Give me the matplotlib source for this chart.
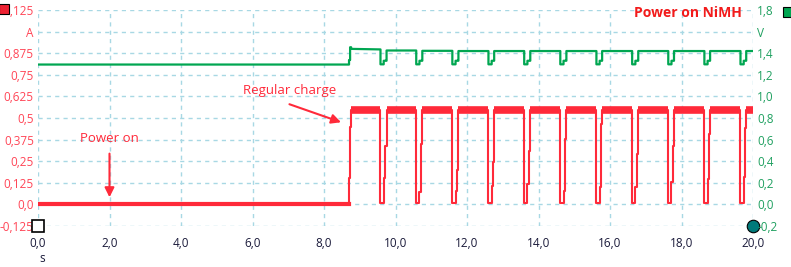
import matplotlib
matplotlib.use("Agg")
import matplotlib.pyplot as plt
import numpy as np

plt.rcParams['font.family'] = ['Open Sans', 'DejaVu Sans']

# ---- data ----
x_ticks = [0, 2, 4, 6, 8, 10, 12, 14, 16, 18, 20]
x_labels = ["0,0", "2,0", "4,0", "6,0", "8,0", "10,0", "12,0", "14,0", "16,0", "18,0", "20,0"]
a_ticks = [-0.125, 0.0, 0.125, 0.25, 0.375, 0.5, 0.625, 0.75, 0.875, 1.0, 1.125]
a_labels = ["-0,125", "0,0", "0,125", "0,25", "0,375", "0,5", "0,625", "0,75", "0,875", "A", "1,125"]
v_ticks = [-0.2, 0.0, 0.2, 0.4, 0.6, 0.8, 1.0, 1.2, 1.4, 1.6, 1.8]
v_labels = ["-0,2", "0,0", "0,2", "0,4", "0,6", "0,8", "1,0", "1,2", "1,4", "V", "1,8"]

idle_current = 0.005
idle_voltage = 1.295
charge_on_times = [8.70, 8.73, 8.76]
charge_on_current = [0.15, 0.45, 0.545]
charge_on_voltage = [1.337, 1.455, 1.44]
plateau_current = 0.545
plateau_voltage = [1.435, 1.425, 1.422, 1.42, 1.42, 1.42, 1.42, 1.42, 1.42, 1.42, 1.42, 1.42]
dip_fall = [9.58, 10.58, 11.59, 12.60, 13.60, 14.61, 15.62, 16.62, 17.63, 18.64, 19.65]
dip_rise = [9.75, 10.75, 11.76, 12.76, 13.77, 14.78, 15.78, 16.79, 17.79, 18.80, 19.81]
dip_bottom_current = 0.01
dip_mid1_current = [0.155, 0.07, 0.08, 0.106, 0.12, 0.077, 0.10, 0.10, 0.13, 0.149, 0.158]
dip_mid2_current = [0.34, 0.35, 0.20, 0.245, 0.31, 0.38, 0.467, 0.29, 0.34, 0.41, 0.44]
dip_bottom_voltage = 1.297
dip_mid_voltage = 1.33
t_end = 20.0

# ---- build traces (step traces through the read breakpoints) ----
t_i = [0.0, charge_on_times[0]]
c_i = [idle_current, idle_current]
v_i = [idle_voltage, idle_voltage]
for tt, cc, vv in zip(charge_on_times, charge_on_current, charge_on_voltage):
    t_i += [tt, tt]
    c_i += [c_i[-1], cc]
    v_i += [v_i[-1], vv]
plateaus = []  # (t0, t1)
start = charge_on_times[-1]
for k, (f, r) in enumerate(zip(dip_fall, dip_rise)):
    plateaus.append((start, f))
    t_i += [f, f]
    c_i += [plateau_current, dip_bottom_current]
    v_i += [plateau_voltage[k], dip_bottom_voltage]
    m1 = f + 0.09
    m2 = f + 0.14
    t_i += [m1, m1]
    c_i += [dip_bottom_current, dip_mid1_current[k]]
    v_i += [dip_bottom_voltage, dip_mid_voltage]
    t_i += [m2, m2]
    c_i += [dip_mid1_current[k], dip_mid2_current[k]]
    v_i += [dip_mid_voltage, dip_mid_voltage]
    t_i += [r, r]
    c_i += [dip_mid2_current[k], plateau_current]
    v_i += [dip_mid_voltage, plateau_voltage[k + 1]]
    start = r
plateaus.append((start, t_end))
t_i.append(t_end)
c_i.append(plateau_current)
v_i.append(plateau_voltage[-1])

RED = "#FF2A3A"
GREEN = "#00A651"
GRID = "#A8D8E4"

fig = plt.figure(figsize=(7.91, 2.67), dpi=100)
ax = fig.add_axes([38/791, 41/267, 715/791, 216/267])
ax2 = ax.twinx()

ax.set_xlim(0, 20)
ax.set_ylim(-0.125, 1.125)
ax2.set_ylim(-0.2, 1.8)

for s in list(ax.spines.values()) + list(ax2.spines.values()):
    s.set_visible(False)

ax.set_xticks(x_ticks)
ax.set_xticklabels(x_labels, color="#1a1a3a", fontsize=8.5)
ax.set_yticks(a_ticks)
ax.set_yticklabels(a_labels, color="#FF4556", fontsize=8.5)
ax2.set_yticks(v_ticks)
ax2.set_yticklabels(v_labels, color="#1FA060", fontsize=8.5)
ax.tick_params(length=0, pad=3)
ax.tick_params(axis='x', pad=8)
ax2.tick_params(length=0, pad=3)
ax.grid(True, color=GRID, linestyle=(0, (3, 3)), linewidth=1)

# traces
ax.plot(t_i, c_i, color=RED, linewidth=1.5, zorder=3)
ax.plot([0, charge_on_times[0]], [idle_current, idle_current], color=RED, linewidth=3.0, zorder=3)
for (a0, a1) in plateaus:
    ax.plot([a0, a1], [plateau_current, plateau_current], color=RED, linewidth=5.5,
            solid_capstyle='butt', zorder=3)
ax2.plot(t_i, v_i, color=GREEN, linewidth=1.6, zorder=3)

# annotations
ax.annotate("", xy=(2.0, 0.025), xytext=(2.0, 0.31),
            arrowprops=dict(arrowstyle="-|>", color=RED, lw=1.5, mutation_scale=14))
ax.text(2.0, 0.38, "Power on", color=RED, fontsize=9.5, ha="center", va="center")
ax.annotate("", xy=(8.55, 0.47), xytext=(6.96, 0.585),
            arrowprops=dict(arrowstyle="-|>", color=RED, lw=1.5, mutation_scale=14))
ax.text(7.03, 0.66, "Regular charge", color=RED, fontsize=9.5, ha="center", va="center")
fig.text(742/791, 1 - 13/267, "Power on NiMH", color="#F21B1B", fontsize=10,
         fontweight="bold", ha="right", va="center")
fig.text(42/791, 1 - 259/267, "s", color="#1a1a3a", fontsize=8.5, ha="center", va="center")

# corner markers
ax.plot([-0.047], [1.005], transform=ax.transAxes, marker="s", markersize=7,
        markerfacecolor="#EE2233", markeredgecolor="black", markeredgewidth=0.8, clip_on=False)
ax.plot([0], [0], transform=ax.transAxes, marker="s", markersize=8,
        markerfacecolor="white", markeredgecolor="black", markeredgewidth=1.2, clip_on=False, zorder=5)
ax.plot([1], [0], transform=ax.transAxes, marker="o", markersize=9,
        markerfacecolor="#007A7A", markeredgecolor="black", markeredgewidth=0.8, clip_on=False, zorder=5)
ax.plot([(788-38)/715], [1.0 - 2/216], transform=ax.transAxes, marker="s", markersize=7,
        markerfacecolor=GREEN, markeredgecolor="black", markeredgewidth=0.8, clip_on=False)

fig.savefig("out.png", dpi=100)
